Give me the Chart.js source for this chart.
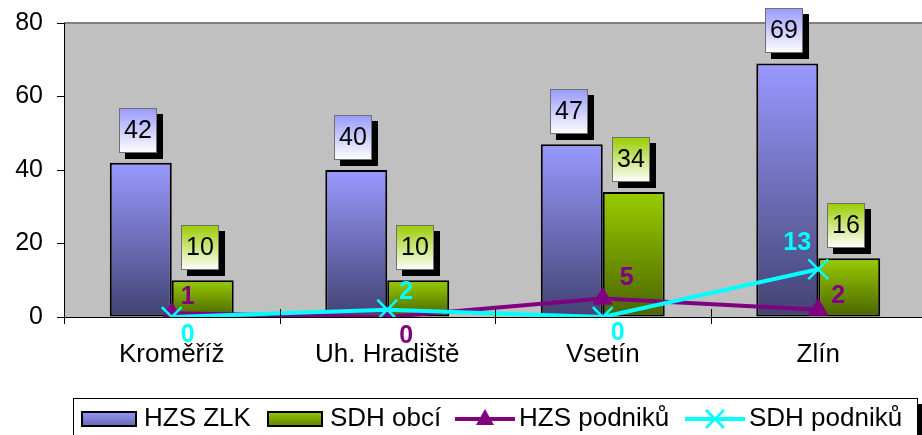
<!DOCTYPE html>
<html><head><meta charset="utf-8">
<script src="https://cdn.jsdelivr.net/npm/chart.js@4.4.1/dist/chart.umd.min.js"></script>
<style>html,body{margin:0;padding:0;background:#fff;overflow:hidden}#wrap{width:926px;height:435px;position:relative}</style>
</head><body><div id="wrap"><canvas id="c"></canvas></div>
<script>
const categories = ['Kroměříž', 'Uh. Hradiště', 'Vsetín', 'Zlín'];
const hzsZlk = [42, 40, 47, 69];
const sdhObci = [10, 10, 34, 16];
const hzsPodniku = [1, 0, 5, 2];
const sdhPodniku = [0, 2, 0, 13];
const yTicks = [0, 20, 40, 60, 80];
const seriesNames = ['HZS ZLK', 'SDH obcí', 'HZS podniků', 'SDH podniků'];

const FONT = "'Liberation Sans', Arial, sans-serif";
const BLUE_TOP = '#9999ff', BLUE_BOT = '#424272';
const GREEN_TOP = '#99cc00', GREEN_BOT = '#4a6400';
const PURPLE = '#800080', CYAN = '#00ffff';

// label offsets for the line series (px from point)
const lineLabelOffsets = {
  2: [[16, -16], [19, 19], [24, -21], [20, -14]],
  3: [[16, 18], [19, -18], [15, 16], [-21, -26]]
};

function barGradient(top, bottom) {
  return (ctx) => {
    const chart = ctx.chart;
    if (!chart.chartArea || ctx.type !== 'data') return top;
    const ys = chart.scales.y;
    const y0 = ys.getPixelForValue(ctx.raw), y1 = ys.getPixelForValue(0);
    const g = chart.ctx.createLinearGradient(0, y0, 0, Math.max(y1, y0 + 1));
    g.addColorStop(0, top); g.addColorStop(1, bottom);
    return g;
  };
}

const bgPlugin = {
  id: 'bg',
  beforeDraw(chart) {
    const {ctx, chartArea: a} = chart;
    ctx.save();
    ctx.fillStyle = '#c0c0c0';
    ctx.fillRect(a.left, a.top, a.right - a.left, a.bottom - a.top);
    ctx.strokeStyle = '#808080';
    ctx.lineWidth = 2;
    ctx.beginPath(); ctx.moveTo(a.left, a.top); ctx.lineTo(a.right, a.top); ctx.stroke();
    ctx.restore();
  },
  afterDraw(chart) {
    const {ctx, chartArea: a} = chart;
    ctx.save();
    ctx.strokeStyle = '#000'; ctx.lineWidth = 1;
    const n = categories.length;
    for (let i = 0; i <= n; i++) {
      const x = Math.round(a.left + (a.right - a.left) * i / n) + 0.5;
      ctx.beginPath();
      ctx.moveTo(x, i === 0 ? a.bottom : a.bottom - 8);
      ctx.lineTo(x, a.bottom + 7);
      ctx.stroke();
    }
    ctx.restore();
  }
};

const labelPlugin = {
  id: 'labels',
  afterDatasetsDraw(chart) {
    const ctx = chart.ctx;
    ctx.save();
    [[0, BLUE_TOP], [1, GREEN_TOP]].forEach(([di, col]) => {
      const meta = chart.getDatasetMeta(di);
      meta.data.forEach((bar, i) => {
        const w = 38, h = 45;
        const cx = bar.x - 3;
        const bx = Math.round(cx - w / 2), by = Math.round(bar.y - 10 - h);
        ctx.fillStyle = '#000';
        ctx.fillRect(bx + 6, by + 6, w, h);
        const g = ctx.createLinearGradient(0, by, 0, by + h);
        g.addColorStop(0, col); g.addColorStop(1, '#ffffff');
        ctx.fillStyle = g;
        ctx.fillRect(bx, by, w, h);
        ctx.strokeStyle = '#707070'; ctx.lineWidth = 1;
        ctx.strokeRect(bx + 0.5, by + 0.5, w - 1, h - 1);
        ctx.fillStyle = '#000';
        ctx.font = `25px ${FONT}`;
        ctx.textAlign = 'center'; ctx.textBaseline = 'middle';
        ctx.fillText(String(chart.data.datasets[di].data[i]), bx + w / 2, by + h / 2 + 1);
      });
    });
    [[2, PURPLE], [3, CYAN]].forEach(([di, col]) => {
      const meta = chart.getDatasetMeta(di);
      meta.data.forEach((pt, i) => {
        const [dx, dy] = lineLabelOffsets[di][i];
        ctx.fillStyle = col;
        ctx.font = `bold 25px ${FONT}`;
        ctx.textAlign = 'center'; ctx.textBaseline = 'middle';
        ctx.fillText(String(chart.data.datasets[di].data[i]), pt.x + dx, pt.y + dy);
      });
    });
    ctx.restore();
  }
};

const legendPlugin = {
  id: 'customLegend',
  afterDraw(chart) {
    const ctx = chart.ctx;
    ctx.save();
    ctx.fillStyle = '#000';
    ctx.fillRect(917, 404, 8, 40);
    ctx.fillStyle = '#fff';
    ctx.fillRect(73, 398, 844, 50);
    ctx.strokeStyle = '#000'; ctx.lineWidth = 1;
    ctx.strokeRect(73.5, 398.5, 844, 50);
    const cy = 419;
    const starts = [81, 267, 455, 685];
    ctx.font = `26px ${FONT}`;
    ctx.textBaseline = 'middle'; ctx.textAlign = 'left';
    seriesNames.forEach((name, i) => {
      const x = starts[i];
      let tx;
      if (i < 2) {
        const g = ctx.createLinearGradient(0, 411, 0, 427);
        g.addColorStop(0, i === 0 ? BLUE_TOP : GREEN_TOP);
        g.addColorStop(1, i === 0 ? '#6666aa' : '#5e8000');
        ctx.fillStyle = g;
        ctx.fillRect(x, 411, 56, 16);
        ctx.strokeStyle = '#000'; ctx.lineWidth = 2;
        ctx.strokeRect(x + 1, 412, 54, 14);
        tx = x + 63;
      } else {
        const col = i === 2 ? PURPLE : CYAN;
        ctx.strokeStyle = col; ctx.lineWidth = 4;
        ctx.beginPath(); ctx.moveTo(x, cy); ctx.lineTo(x + 60, cy); ctx.stroke();
        const mx = x + 30;
        if (i === 2) {
          ctx.fillStyle = col;
          ctx.beginPath();
          ctx.moveTo(mx, cy - 10); ctx.lineTo(mx + 9, cy + 6); ctx.lineTo(mx - 9, cy + 6);
          ctx.closePath(); ctx.fill();
        } else {
          ctx.lineWidth = 2.5;
          ctx.beginPath();
          ctx.moveTo(mx - 9, cy - 9); ctx.lineTo(mx + 9, cy + 9);
          ctx.moveTo(mx + 9, cy - 9); ctx.lineTo(mx - 9, cy + 9);
          ctx.stroke();
        }
        tx = x + 64;
      }
      ctx.fillStyle = '#000';
      ctx.fillText(name, tx, cy);
    });
    ctx.restore();
  }
};

new Chart(document.getElementById('c'), {
  data: {
    labels: categories,
    datasets: [
      { type: 'bar', label: seriesNames[0], data: hzsZlk, order: 3,
        backgroundColor: barGradient(BLUE_TOP, BLUE_BOT), borderColor: '#000', borderWidth: 2, borderSkipped: false,
        categoryPercentage: 0.575, barPercentage: 1.0 },
      { type: 'bar', label: seriesNames[1], data: sdhObci, order: 4,
        backgroundColor: barGradient(GREEN_TOP, GREEN_BOT), borderColor: '#000', borderWidth: 2, borderSkipped: false,
        categoryPercentage: 0.575, barPercentage: 1.0 },
      { type: 'line', label: seriesNames[2], data: hzsPodniku, order: 2,
        borderColor: PURPLE, borderWidth: 4, tension: 0,
        pointStyle: 'triangle', pointRadius: 11, pointBackgroundColor: PURPLE, pointBorderColor: PURPLE, pointBorderWidth: 1 },
      { type: 'line', label: seriesNames[3], data: sdhPodniku, order: 1,
        borderColor: CYAN, borderWidth: 4, tension: 0,
        pointStyle: 'crossRot', pointRadius: 14, pointBorderColor: CYAN, pointBackgroundColor: CYAN, pointBorderWidth: 2.5 }
    ]
  },
  options: {
    responsive: true, maintainAspectRatio: false, animation: false,
    layout: { autoPadding: false, padding: { top: 23, right: 0, left: 0, bottom: 0 } },
    plugins: { legend: { display: false }, tooltip: { enabled: false } },
    scales: {
      x: {
        offset: true,
        grid: { display: false },
        border: { display: true, color: '#000', width: 1 },
        ticks: { color: '#000', font: { family: FONT, size: 26 }, padding: 14, maxRotation: 0 },
        afterFit(s) { s.height = 118; s.paddingLeft = 0; s.paddingRight = 0; }
      },
      y: {
        min: 0, max: 80,
        afterBuildTicks(s) { s.ticks = yTicks.map(v => ({ value: v })); },
        grid: { drawOnChartArea: false, tickLength: 7, color: '#000' },
        border: { display: true, color: '#000', width: 1 },
        ticks: { color: '#000', font: { family: FONT, size: 25 }, padding: 14 },
        afterFit(s) { s.width = 64; s.paddingTop = 0; s.paddingBottom = 0; }
      }
    }
  },
  plugins: [bgPlugin, labelPlugin, legendPlugin]
});
</script>
</body></html>
